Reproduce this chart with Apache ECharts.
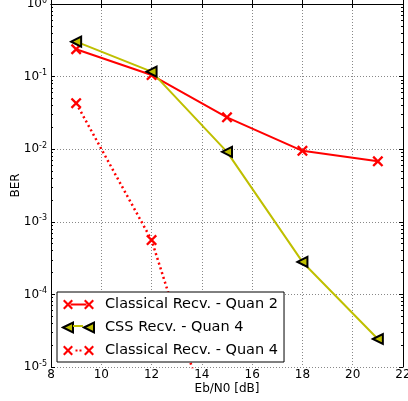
<!DOCTYPE html>
<html>
<head>
<meta charset="utf-8">
<script src="https://cdn.jsdelivr.net/npm/echarts@6/dist/echarts.min.js"></script>
<style>
  html, body { margin: 0; padding: 0; background: #fff; }
  #chart { width: 408px; height: 401px; }
</style>
</head>
<body>
<div id="chart"></div>
<script>
// data
var ebn0 = [9, 12, 15, 18, 21];
var classicalQ2 = [0.238, 0.105, 0.0275, 0.0095, 0.0068];
var cssQ4 = [0.303, 0.117, 0.0092, 0.00028, 0.0000243];
var classicalQ4 = [0.043, 0.00056, 0.0000003];
var seriesNames = ['Classical Recv. - Quan 2', 'CSS Recv. - Quan 4', 'Classical Recv. - Quan 4'];
var xTicks = [8, 10, 12, 14, 16, 18, 20, 22];
var decades = [-5, -4, -3, -2, -1, 0];

var RED = '#ff0000';
var OLIVE = '#bfbf00';
var FONT = 'DejaVu Sans';

// minor ticks at 2..9 x 10^e, in log10 space
var minorTicks = [];
decades.slice(0, -1).forEach(function (e) {
	for (var k = 2; k <= 9; k++) minorTicks.push(e + Math.log10(k));
});

function pairs(xs, ys) {
	return ys.map(function (y, i) { return [xs[i], y]; });
}

// x marker as filled polygon
var X_PATH = 'M0,1.5L1.5,0L5,3.5L8.5,0L10,1.5L6.5,5L10,8.5L8.5,10L5,6.5L1.5,10L0,8.5L3.5,5Z';
var X_PATH_R = 'M21,1.5L22.5,0L26,3.5L29.5,0L31,1.5L27.5,5L31,8.5L29.5,10L26,6.5L22.5,10L21,8.5L24.5,5Z';
var TRI = 'path://M0,5L10,0L10,10Z';

var ICON_SOLID = 'path://' + X_PATH + ' M7.5,4L23.5,4L23.5,6L7.5,6Z ' + X_PATH_R;
var ICON_DOT = 'path://' + X_PATH + ' M12.5,4L14.5,4L14.5,6L12.5,6Z M16.5,4L18.5,4L18.5,6L16.5,6Z ' + X_PATH_R;
var ICON_TRI = 'path://M0,5L10,0L10,10Z M21,5L31,0L31,10Z';

var LEG_LEFT = 57, LEG_TOP = 292;
var ROW2_Y = LEG_TOP + 5 + 14 + 8 + 7;

let chart = echarts.init(document.getElementById('chart'));

let gridLine = { show: true, lineStyle: { color: '#888', width: 1, type: [1, 2] } };
let frameLine = { show: true, lineStyle: { color: '#000', width: 1 } };

let option = {
	animation: false,
	backgroundColor: '#fff',
	textStyle: { fontFamily: FONT },
	grid: { left: 51, right: 5, top: 4, bottom: 34, outerBoundsMode: 'none', containLabel: false },
	xAxis: [{
		type: 'value',
		min: 8,
		max: 22,
		interval: 2,
		name: 'Eb/N0 [dB]',
		nameLocation: 'middle',
		nameGap: 16,
		nameMoveOverlap: false,
		nameTextStyle: { color: '#000', fontSize: 12, fontFamily: FONT },
		axisLine: frameLine,
		axisTick: { inside: true, length: 4, lineStyle: { color: '#000' } },
		axisLabel: { color: '#000', fontSize: 12, margin: 2, fontFamily: FONT },
		splitLine: gridLine
	}, {
		type: 'value',
		position: 'top',
		min: 8,
		max: 22,
		interval: 2,
		axisLine: frameLine,
		axisTick: { inside: true, length: 4, lineStyle: { color: '#000' } },
		axisLabel: { show: false },
		splitLine: { show: false }
	}],
	yAxis: [{
		type: 'log',
		logBase: 10,
		min: 0.00001,
		max: 1,
		interval: 1,
		name: 'BER',
		nameLocation: 'middle',
		nameGap: 29,
		nameMoveOverlap: false,
		nameTextStyle: { color: '#000', fontSize: 12, fontFamily: FONT },
		axisLine: frameLine,
		axisTick: { inside: true, length: 4, lineStyle: { color: '#000' } },
		axisLabel: {
			margin: 4,
			formatter: function (v) {
				let e = Math.round(Math.log10(v));
				return '{b|10}{s|' + e + '}';
			},
			rich: {
				b: { fontSize: 12, color: '#000', fontFamily: FONT },
				s: { fontSize: 8, color: '#000', fontFamily: FONT, padding: [0, 0, 7, 0] }
			}
		},
		splitLine: gridLine
	}, {
		type: 'log',
		logBase: 10,
		position: 'right',
		min: 0.00001,
		max: 1,
		interval: 1,
		axisLine: frameLine,
		axisTick: { inside: true, length: 4, lineStyle: { color: '#000' } },
		axisLabel: { show: false },
		splitLine: { show: false }
	}, {
		// minor ticks, left
		type: 'value',
		position: 'left',
		min: -5,
		max: 0,
		axisLine: { show: false },
		axisTick: { inside: true, length: 2, customValues: minorTicks, lineStyle: { color: '#000' } },
		axisLabel: { show: false },
		splitLine: { show: false }
	}, {
		// minor ticks, right
		type: 'value',
		position: 'right',
		min: -5,
		max: 0,
		axisLine: { show: false },
		axisTick: { inside: true, length: 2, customValues: minorTicks, lineStyle: { color: '#000' } },
		axisLabel: { show: false },
		splitLine: { show: false }
	}],
	legend: {
		orient: 'vertical',
		left: LEG_LEFT,
		top: LEG_TOP,
		padding: [5, 6, 4, 5],
		itemWidth: 31,
		itemHeight: 10,
		itemGap: 8,
		backgroundColor: '#fff',
		borderColor: '#000',
		borderWidth: 1,
		borderRadius: 0,
		textStyle: { color: '#000', fontSize: 14.5, fontFamily: FONT, padding: [0, 0, 0, 6] },
		data: [
			{ name: seriesNames[0], icon: ICON_SOLID, itemStyle: { color: RED, borderWidth: 0 } },
			{ name: seriesNames[1], icon: ICON_TRI, itemStyle: { color: OLIVE, borderColor: '#000', borderWidth: 2 } },
			{ name: seriesNames[2], icon: ICON_DOT, itemStyle: { color: RED, borderWidth: 0 } }
		]
	},
	graphic: [{
		// olive connector between the two legend triangles
		type: 'line',
		z: 100,
		shape: { x1: LEG_LEFT + 5 + 11, y1: ROW2_Y, x2: LEG_LEFT + 5 + 21, y2: ROW2_Y },
		style: { stroke: OLIVE, lineWidth: 2 }
	}],
	series: [{
		name: seriesNames[0],
		type: 'line',
		data: pairs(ebn0, classicalQ2),
		symbol: 'path://' + X_PATH,
		symbolSize: 11,
		itemStyle: { color: RED },
		lineStyle: { color: RED, width: 2 },
		clip: true,
		z: 3
	}, {
		name: seriesNames[1],
		type: 'line',
		data: pairs(ebn0, cssQ4),
		symbol: TRI,
		symbolSize: 10,
		itemStyle: { color: OLIVE, borderColor: '#000', borderWidth: 2 },
		lineStyle: { color: OLIVE, width: 2 },
		clip: true,
		z: 4
	}, {
		name: seriesNames[2],
		type: 'line',
		data: pairs(ebn0, classicalQ4),
		symbol: 'path://' + X_PATH,
		symbolSize: 11,
		itemStyle: { color: RED },
		lineStyle: { color: RED, width: 2.5, type: [2, 3] },
		clip: true,
		z: 3
	}]
};

chart.setOption(option);
</script>
</body>
</html>
